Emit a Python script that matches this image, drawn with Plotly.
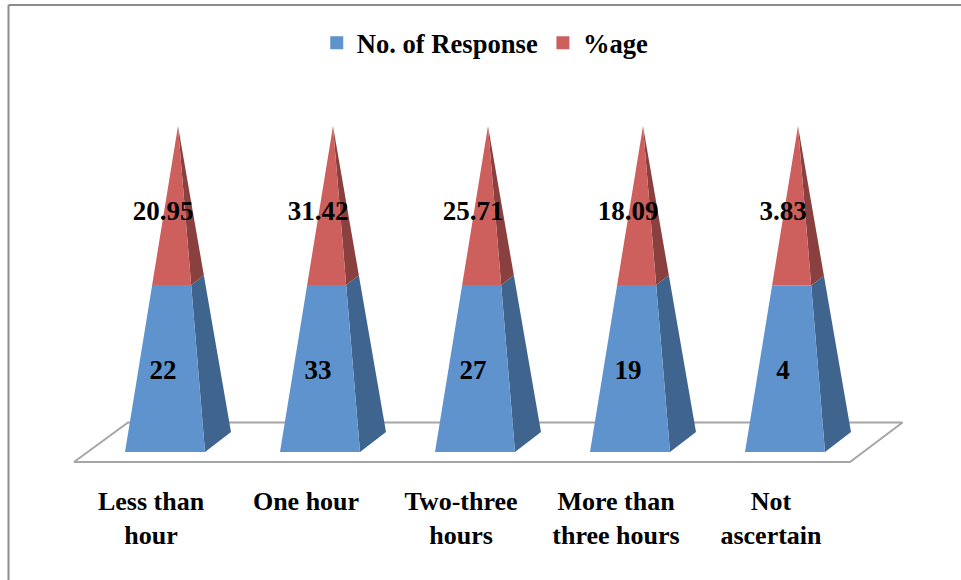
import plotly.graph_objects as go

categories = ["Less than hour", "One hour", "Two-three hours", "More than three hours", "Not ascertain"]
tick_labels = ["Less than<br>hour", "One hour", "Two-three<br>hours", "More than<br>three hours", "Not<br>ascertain"]
responses = [22, 33, 27, 19, 4]
percentages = [20.95, 31.42, 25.71, 18.09, 3.83]

BLUE, BLUE_SIDE = "#5F93CE", "#3F658F"
RED, RED_SIDE = "#CD5F5C", "#8A403E"
GREY = "#A6A6A6"
FONT = "Liberation Serif"

W, H, BOTTOM = 961, 580, 100
PLOT_H = H - BOTTOM
X0_PX, PITCH_PX = 151, 155      # pixel of category 0, pixels per category
Y0_PX, FULL_PX = 452, 326       # pixel of 0 %, pixels per 100 %
ux = 1 / PITCH_PX               # axis units per pixel
uy = 100 / FULL_PX

# projected pyramid, in axis units relative to its category position
FL = (-26 * ux, 0.0)
FR = (54 * ux, 0.0)
BR = (80 * ux, 20 * uy)
APEX = (27 * ux, 100.0)
LABEL_DX = 12 * ux
LOW_DY = -4 * uy
HIGH_DY = -8 * uy


def along(p, t, i):
    return (i + p[0] + (APEX[0] - p[0]) * t, p[1] + (APEX[1] - p[1]) * t)


def polygons(faces):
    xs, ys = [], []
    for face in faces:
        for x, y in face:
            xs.append(x)
            ys.append(y)
        xs.append(face[0][0])
        ys.append(face[0][1])
        xs.append(None)
        ys.append(None)
    return xs, ys


blue_front, blue_side, red_front, red_side = [], [], [], []
label_x, low_y, high_y = [], [], []
for i, (r, p) in enumerate(zip(responses, percentages)):
    s = r / (r + p)
    blue_front.append([along(FL, 0, i), along(FR, 0, i), along(FR, s, i), along(FL, s, i)])
    blue_side.append([along(FR, 0, i), along(BR, 0, i), along(BR, s, i), along(FR, s, i)])
    red_front.append([along(FL, s, i), along(FR, s, i), along(FL, 1, i)])
    red_side.append([along(FR, s, i), along(BR, s, i), along(FR, 1, i)])
    label_x.append(i + LABEL_DX)
    low_y.append(100 * s / 2 + LOW_DY)
    high_y.append(100 * (s + 1) / 2 + HIGH_DY)

fig = go.Figure()

# floor
fl_x = [(74 - X0_PX) * ux, (850 - X0_PX) * ux, (902.5 - X0_PX) * ux, (128 - X0_PX) * ux, (74 - X0_PX) * ux]
fl_y = [-10 * uy, -10 * uy, 29.5 * uy, 29.5 * uy, -10 * uy]
fig.add_trace(go.Scatter(x=fl_x, y=fl_y, mode="lines", fill="toself", fillcolor="white",
                         line=dict(color=GREY, width=2), showlegend=False, hoverinfo="skip"))

for faces, colour in [(blue_side, BLUE_SIDE), (red_side, RED_SIDE), (blue_front, BLUE), (red_front, RED)]:
    xs, ys = polygons(faces)
    fig.add_trace(go.Scatter(x=xs, y=ys, mode="lines", fill="toself", fillcolor=colour,
                             line=dict(width=0, color=colour), showlegend=False, hoverinfo="skip"))

label_font = dict(family=FONT, size=27, color="black", weight=700)
fig.add_trace(go.Scatter(x=label_x, y=low_y, mode="text", text=[str(v) for v in responses],
                         textposition="middle center", textfont=label_font, showlegend=False,
                         customdata=categories, hovertemplate="%{customdata}: %{text}<extra></extra>"))
fig.add_trace(go.Scatter(x=label_x, y=high_y, mode="text", text=[f"{v:.2f}" for v in percentages],
                         textposition="middle center", textfont=label_font, showlegend=False,
                         customdata=categories, hovertemplate="%{customdata}: %{text}<extra></extra>"))

# legend keys
for name, colour in [("No. of Response", BLUE), ("%age", RED)]:
    fig.add_trace(go.Scatter(x=[None], y=[None], mode="markers", name=name,
                             marker=dict(symbol="square", size=13, color=colour)))

fig.update_layout(
    width=W, height=H, margin=dict(l=0, r=0, t=0, b=BOTTOM),
    paper_bgcolor="white", plot_bgcolor="white",
    font=dict(family=FONT, color="black"),
    legend=dict(orientation="h", x=0.3296, y=1 - 19 / PLOT_H, xanchor="left", yanchor="top",
                font=dict(family=FONT, size=26.6, color="black", weight=700),
                bgcolor="rgba(0,0,0,0)"),
    xaxis=dict(range=[-X0_PX * ux, (W - X0_PX) * ux], tickvals=list(range(len(categories))),
               ticktext=tick_labels, showgrid=False, zeroline=False, showline=False, ticks="",
               ticklabelstandoff=3,
               tickfont=dict(family=FONT, size=26, color="black", weight=700)),
    yaxis=dict(range=[(Y0_PX - PLOT_H) * uy, Y0_PX * uy], visible=False),
    shapes=[dict(type="line", xref="paper", yref="paper", x0=8.5 / W, x1=8.5 / W,
                 y0=1 - H / PLOT_H, y1=1 - 5 / PLOT_H, line=dict(color="#8C8C8C", width=2)),
            dict(type="line", xref="paper", yref="paper", x0=8.5 / W, x1=1,
                 y0=1 - 5 / PLOT_H, y1=1 - 5 / PLOT_H, line=dict(color="#8C8C8C", width=2))],
)

fig.write_html("out.html", config={"displayModeBar": False},
               post_script="document.body.style.margin='0';document.body.style.overflow='hidden';")
